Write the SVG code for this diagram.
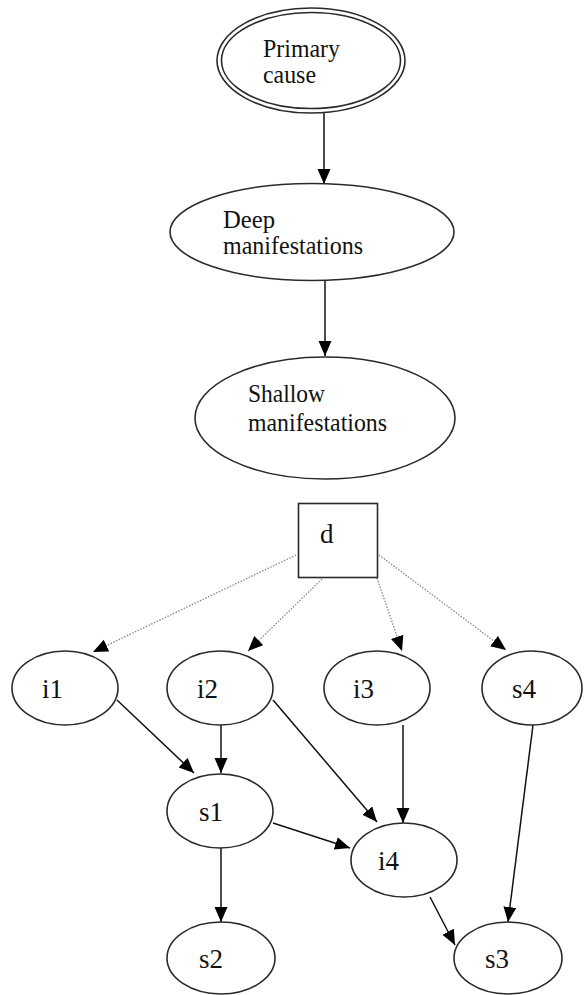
<svg xmlns="http://www.w3.org/2000/svg" width="584" height="995" viewBox="0 0 584 995">
<style>
.n{fill:#fff;stroke:#2a2a2a;stroke-width:1.6}
.t{font-family:"Liberation Serif","Times New Roman",serif;font-size:25px;fill:#111}
.l{font-family:"Liberation Serif","Times New Roman",serif;font-size:27px;fill:#111}
.e{fill:none;stroke:#111;stroke-width:1.5}
.d{fill:none;stroke:#888;stroke-width:1.3;stroke-dasharray:1.5 1.5}
</style>
<defs>
<marker id="ah" markerUnits="userSpaceOnUse" markerWidth="16" markerHeight="14" refX="15" refY="6.5" orient="auto">
<path d="M0,0 L15,6.5 L0,13 z" fill="#000"/>
</marker>
</defs>
<rect width="584" height="995" fill="#fff"/>
<g id="connectors">
<path class="e" d="M324,113 L324,184" marker-end="url(#ah)"/>
<path class="e" d="M325,281 L325,356" marker-end="url(#ah)"/>
<path class="d" d="M296,555 L93,652" marker-end="url(#ah)"/>
<path class="d" d="M322,579 L248,651" marker-end="url(#ah)"/>
<path class="d" d="M377,578 L402,651" marker-end="url(#ah)"/>
<path class="d" d="M379,555 L506,650" marker-end="url(#ah)"/>
<path class="e" d="M117,700 L194,773" marker-end="url(#ah)"/>
<path class="e" d="M221,725 L221,773" marker-end="url(#ah)"/>
<path class="e" d="M273,700 L377,822" marker-end="url(#ah)"/>
<path class="e" d="M403,725 L403,823" marker-end="url(#ah)"/>
<path class="e" d="M273,823 L350,848" marker-end="url(#ah)"/>
<path class="e" d="M533,725 L508,922" marker-end="url(#ah)"/>
<path class="e" d="M430,897 L455,945" marker-end="url(#ah)"/>
<path class="e" d="M221,848 L221,922" marker-end="url(#ah)"/>
</g>
<g id="primary">
<ellipse class="n" cx="311" cy="60.5" rx="94" ry="52.5"/>
<ellipse class="n" cx="311" cy="60.5" rx="89.5" ry="48"/>
<text class="t" x="263" y="57" textLength="77" lengthAdjust="spacingAndGlyphs">Primary</text>
<text class="t" x="263" y="83" textLength="53" lengthAdjust="spacingAndGlyphs">cause</text>
</g>
<g id="deep">
<ellipse class="n" cx="312" cy="232" rx="142" ry="48.5"/>
<text class="t" x="223" y="228" textLength="52" lengthAdjust="spacingAndGlyphs">Deep</text>
<text class="t" x="223" y="254" textLength="140" lengthAdjust="spacingAndGlyphs">manifestations</text>
</g>
<g id="shallow">
<ellipse class="n" cx="325" cy="418" rx="130" ry="61"/>
<text class="t" x="248" y="402" textLength="77" lengthAdjust="spacingAndGlyphs">Shallow</text>
<text class="t" x="248" y="431" textLength="139" lengthAdjust="spacingAndGlyphs">manifestations</text>
</g>
<g id="d">
<rect class="n" x="298.5" y="503.5" width="79" height="74"/>
<text class="l" x="320" y="543">d</text>
</g>
<g id="i1"><ellipse class="n" cx="65" cy="688" rx="53" ry="37"/><text class="l" x="42" y="698">i1</text></g>
<g id="i2"><ellipse class="n" cx="220" cy="688" rx="53" ry="37"/><text class="l" x="197" y="698">i2</text></g>
<g id="i3"><ellipse class="n" cx="377" cy="688" rx="53" ry="37"/><text class="l" x="353" y="698">i3</text></g>
<g id="s4"><ellipse class="n" cx="532" cy="688" rx="50" ry="37"/><text class="l" x="512" y="698">s4</text></g>
<g id="s1"><ellipse class="n" cx="220" cy="811" rx="53" ry="37"/><text class="l" x="199" y="821">s1</text></g>
<g id="i4"><ellipse class="n" cx="404" cy="860" rx="53" ry="37"/><text class="l" x="378" y="870">i4</text></g>
<g id="s2"><ellipse class="n" cx="221" cy="958" rx="54" ry="36"/><text class="l" x="199" y="968">s2</text></g>
<g id="s3"><ellipse class="n" cx="508" cy="958" rx="54" ry="36"/><text class="l" x="485" y="968">s3</text></g>
</svg>
